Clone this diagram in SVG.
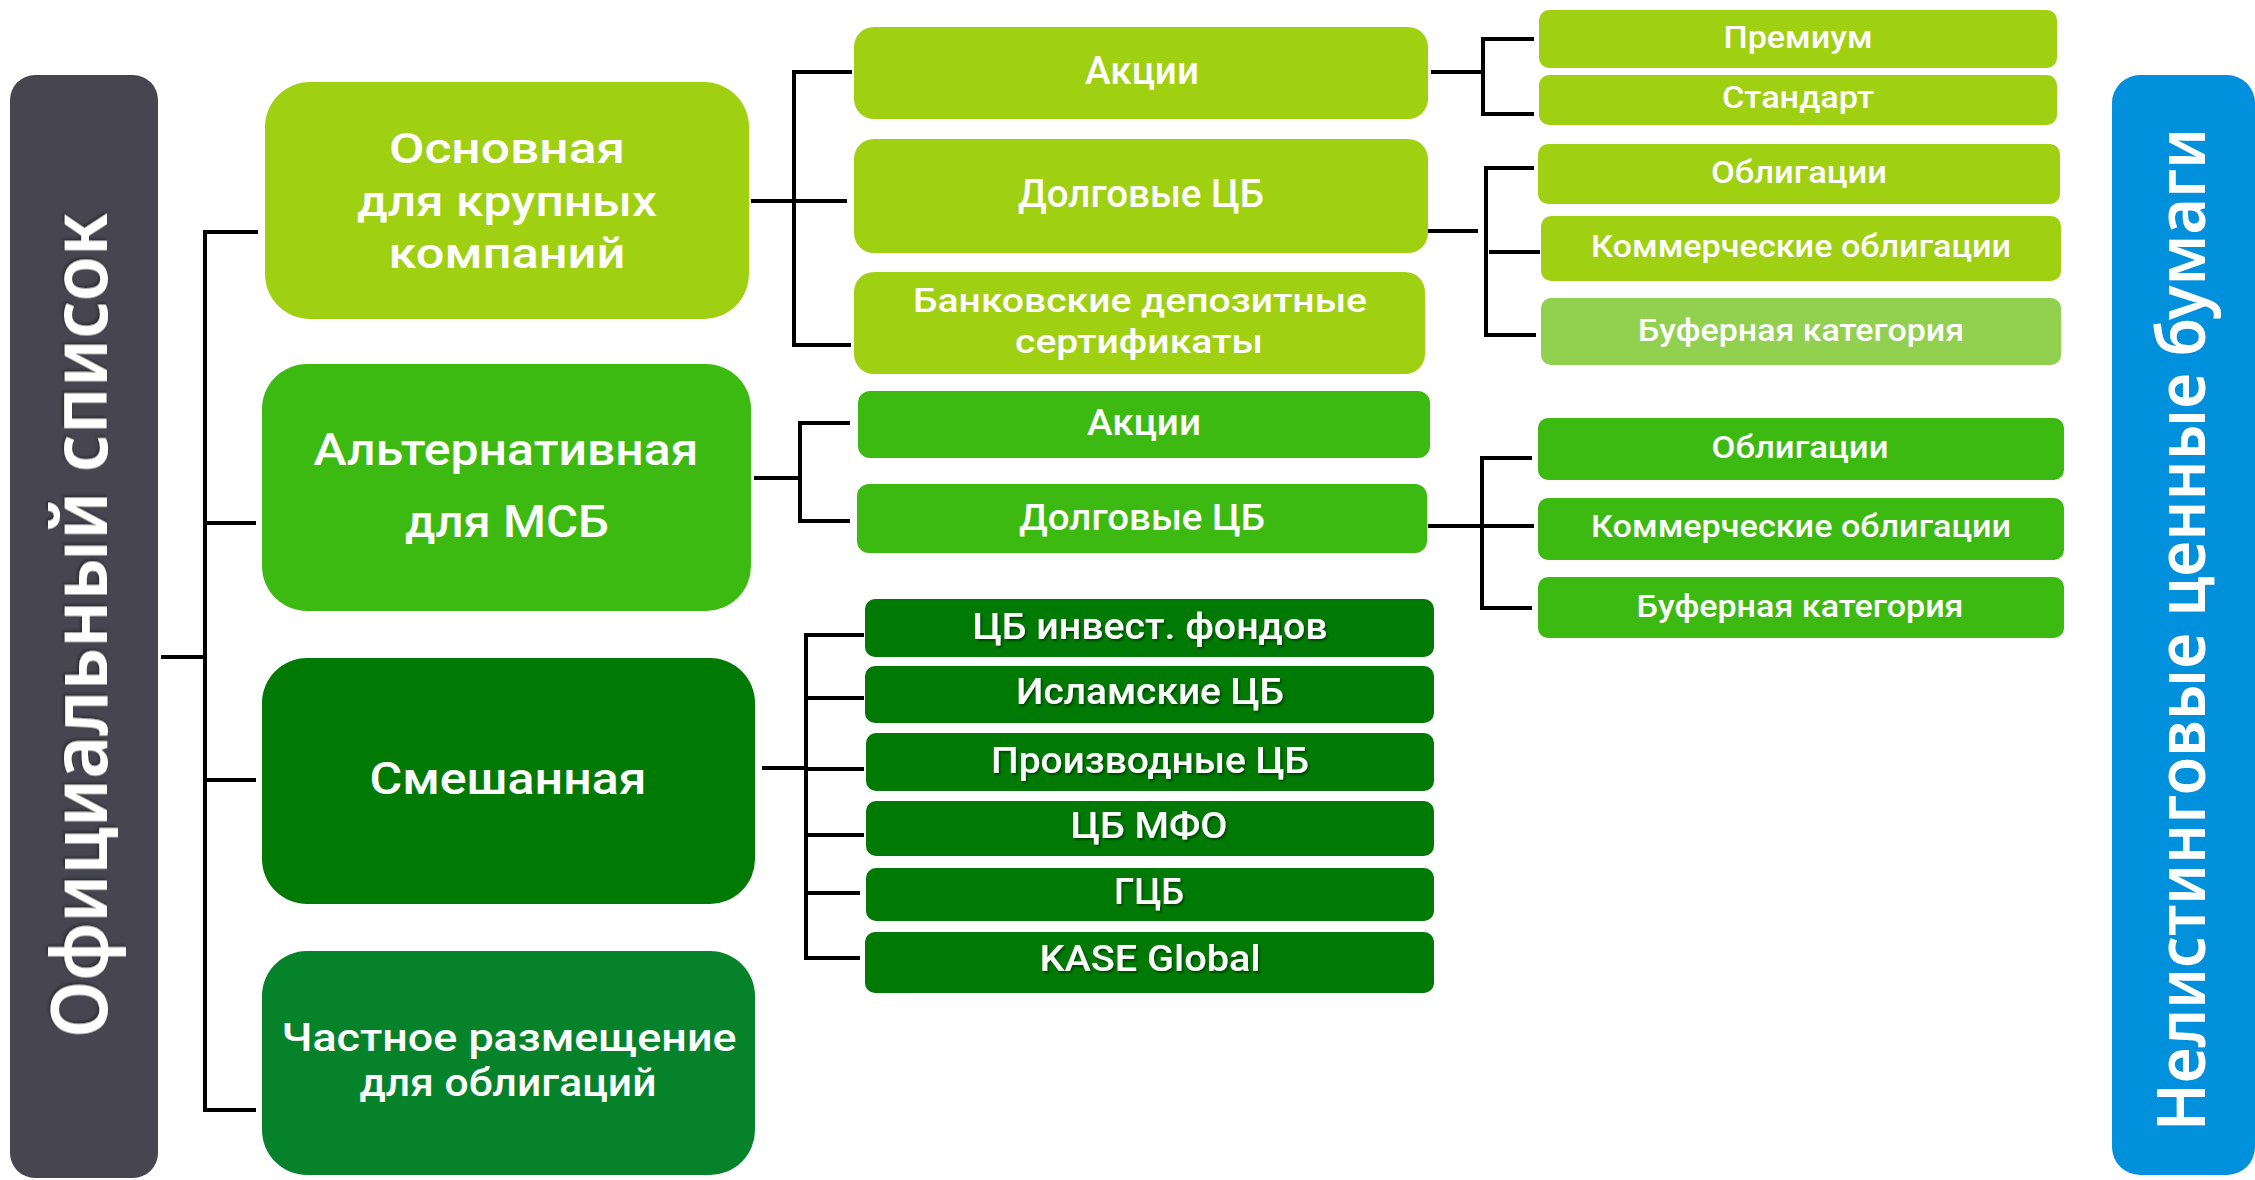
<svg xmlns="http://www.w3.org/2000/svg" width="2255" height="1180" viewBox="0 0 2255 1180">
<defs>
<filter id="sh" x="-10%" y="-30%" width="120%" height="160%">
<feDropShadow dx="1.5" dy="2" stdDeviation="1.2" flood-color="#000" flood-opacity="0.45"/>
</filter>
<filter id="shv" x="-30%" y="-10%" width="160%" height="120%">
<feDropShadow dx="2" dy="-1.5" stdDeviation="1.5" flood-color="#000" flood-opacity="0.4"/>
</filter>
</defs>
<style>
text{font-family:Roboto,"Open Sans","DejaVu Sans",sans-serif;font-weight:500;fill:#fff;text-anchor:middle}
.c1{font-size:44px}
.c2{font-size:38px}
.c3{font-size:31px}
.cm{font-size:36px}
.title{font-family:"Noto Sans","Open Sans",sans-serif;font-weight:600}
.lg{fill:#9fd011}
.ag{fill:#3dba12}
.dg{fill:#007a04}
.pg{fill:#06832a}
.bf{fill:#92d050}
.con line{stroke:#000;stroke-width:4;stroke-linecap:square}
</style>
<rect width="2255" height="1180" fill="#fff"/>

<g id="official">
<rect x="10" y="75" width="148" height="1103" rx="25" fill="#474650"/>
<text class="title" transform="translate(107,625.5) rotate(-90)" font-size="78" textLength="825" lengthAdjust="spacingAndGlyphs" filter="url(#shv)">Официальный список</text>
</g>

<g id="unlisted">
<rect x="2112" y="75" width="143" height="1100" rx="28" fill="#0190db"/>
<text class="title" transform="translate(2205,629.5) rotate(-90)" font-size="66" textLength="1003" lengthAdjust="spacingAndGlyphs">Нелистинговые ценные бумаги</text>
</g>

<g class="con" id="connectors">
<line x1="163" y1="657" x2="201" y2="657"/>
<line x1="205" y1="232" x2="205" y2="1110"/>
<line x1="205" y1="232" x2="256" y2="232"/>
<line x1="205" y1="523" x2="254" y2="523"/>
<line x1="205" y1="780" x2="254" y2="780"/>
<line x1="205" y1="1110" x2="254" y2="1110"/>

<line x1="753" y1="201" x2="845" y2="201"/>
<line x1="794" y1="72" x2="794" y2="345"/>
<line x1="794" y1="72" x2="850" y2="72"/>
<line x1="794" y1="345" x2="849" y2="345"/>

<line x1="756" y1="478" x2="798" y2="478"/>
<line x1="800" y1="423" x2="800" y2="521"/>
<line x1="800" y1="423" x2="848" y2="423"/>
<line x1="800" y1="521" x2="848" y2="521"/>

<line x1="764" y1="768" x2="806" y2="768"/>
<line x1="806" y1="635" x2="806" y2="958"/>
<line x1="806" y1="635" x2="862" y2="635"/>
<line x1="808" y1="698" x2="862" y2="698"/>
<line x1="808" y1="769" x2="862" y2="769"/>
<line x1="808" y1="835" x2="862" y2="835"/>
<line x1="810" y1="893" x2="858" y2="893"/>
<line x1="806" y1="958" x2="858" y2="958"/>

<line x1="1433" y1="72" x2="1483" y2="72"/>
<line x1="1483" y1="39" x2="1483" y2="114"/>
<line x1="1483" y1="39" x2="1532" y2="39"/>
<line x1="1483" y1="114" x2="1532" y2="114"/>

<line x1="1430" y1="231" x2="1476" y2="231"/>
<line x1="1486" y1="168" x2="1486" y2="335"/>
<line x1="1486" y1="168" x2="1532" y2="168"/>
<line x1="1491" y1="252" x2="1538" y2="252"/>
<line x1="1486" y1="335" x2="1534" y2="335"/>

<line x1="1430" y1="526" x2="1532" y2="526"/>
<line x1="1482" y1="458" x2="1482" y2="608"/>
<line x1="1482" y1="458" x2="1530" y2="458"/>
<line x1="1482" y1="608" x2="1530" y2="608"/>
</g>

<g id="main">
<rect class="lg" x="265" y="82" width="484" height="237" rx="45"/>
<text class="c1" x="507" y="163" style="font-size:43px" textLength="236" lengthAdjust="spacingAndGlyphs">Основная</text>
<text class="c1" x="507" y="215.5" style="font-size:43px" textLength="300" lengthAdjust="spacingAndGlyphs">для крупных</text>
<text class="c1" x="507" y="267.5" style="font-size:43px" textLength="237" lengthAdjust="spacingAndGlyphs">компаний</text>
</g>
<g id="alt">
<rect class="ag" x="262" y="364" width="489" height="247" rx="45"/>
<text class="c1" x="506" y="464.6" textLength="385" lengthAdjust="spacingAndGlyphs">Альтернативная</text>
<text class="c1" x="507" y="537" textLength="204" lengthAdjust="spacingAndGlyphs">для МСБ</text>
</g>
<g id="mixed">
<rect class="dg" x="262" y="658" width="493" height="246" rx="45"/>
<text class="c1" x="508" y="794" textLength="277" lengthAdjust="spacingAndGlyphs">Смешанная</text>
</g>
<g id="private">
<rect class="pg" x="262" y="951" width="493" height="224" rx="45"/>
<text class="c1" x="509" y="1050.5" style="font-size:38px" textLength="455" lengthAdjust="spacingAndGlyphs">Частное размещение</text>
<text class="c1" x="508" y="1095.5" style="font-size:38px" textLength="297" lengthAdjust="spacingAndGlyphs">для облигаций</text>
</g>

<g id="main-shares">
<rect class="lg" x="854" y="27" width="574" height="92" rx="20"/>
<text class="c2" x="1142" y="84" textLength="114" lengthAdjust="spacingAndGlyphs">Акции</text>
</g>
<g id="main-debt">
<rect class="lg" x="854" y="139" width="574" height="114" rx="20"/>
<text class="c2" x="1141" y="207" textLength="246" lengthAdjust="spacingAndGlyphs">Долговые ЦБ</text>
</g>
<g id="main-cd">
<rect class="lg" x="854" y="272" width="571" height="102" rx="20"/>
<text class="c2" x="1140" y="311.5" style="font-size:33px" textLength="454" lengthAdjust="spacingAndGlyphs">Банковские депозитные</text>
<text class="c2" x="1139" y="352.5" style="font-size:33px" textLength="248" lengthAdjust="spacingAndGlyphs">сертификаты</text>
</g>
<g id="alt-shares">
<rect class="ag" x="858" y="391" width="572" height="67" rx="12"/>
<text class="c2" x="1144" y="435" style="font-size:36px" textLength="114" lengthAdjust="spacingAndGlyphs">Акции</text>
</g>
<g id="alt-debt">
<rect class="ag" x="857" y="484" width="570" height="69" rx="12"/>
<text class="c2" x="1142" y="530" style="font-size:37px" textLength="246" lengthAdjust="spacingAndGlyphs">Долговые ЦБ</text>
</g>

<g id="mix-funds">
<rect class="dg" x="865" y="599" width="569" height="58" rx="10"/>
<text class="cm" x="1150" y="639" textLength="355" lengthAdjust="spacingAndGlyphs" filter="url(#sh)">ЦБ инвест. фондов</text>
</g>
<g id="mix-islamic">
<rect class="dg" x="865" y="666" width="569" height="57" rx="10"/>
<text class="cm" x="1150" y="704" textLength="268" lengthAdjust="spacingAndGlyphs" filter="url(#sh)">Исламские ЦБ</text>
</g>
<g id="mix-deriv">
<rect class="dg" x="866" y="733" width="568" height="58" rx="10"/>
<text class="cm" x="1150" y="773" textLength="318" lengthAdjust="spacingAndGlyphs" filter="url(#sh)">Производные ЦБ</text>
</g>
<g id="mix-mfo">
<rect class="dg" x="866" y="801" width="568" height="55" rx="10"/>
<text class="cm" x="1149" y="838" textLength="157" lengthAdjust="spacingAndGlyphs" filter="url(#sh)">ЦБ МФО</text>
</g>
<g id="mix-gcb">
<rect class="dg" x="866" y="868" width="568" height="53" rx="10"/>
<text class="cm" x="1149" y="904" textLength="70" lengthAdjust="spacingAndGlyphs" filter="url(#sh)">ГЦБ</text>
</g>
<g id="mix-kase">
<rect class="dg" x="865" y="932" width="569" height="61" rx="10"/>
<text class="cm" x="1150" y="971" textLength="221" lengthAdjust="spacingAndGlyphs" filter="url(#sh)">KASE Global</text>
</g>

<g id="premium">
<rect class="lg" x="1539" y="10" width="518" height="58" rx="10"/>
<text class="c3" x="1798" y="48.4" textLength="149" lengthAdjust="spacingAndGlyphs">Премиум</text>
</g>
<g id="standard">
<rect class="lg" x="1539" y="75" width="518" height="50" rx="10"/>
<text class="c3" x="1798" y="108" textLength="152" lengthAdjust="spacingAndGlyphs">Стандарт</text>
</g>
<g id="main-bonds">
<rect class="lg" x="1538" y="144" width="522" height="60" rx="10"/>
<text class="c3" x="1799" y="183" textLength="176" lengthAdjust="spacingAndGlyphs">Облигации</text>
</g>
<g id="main-cp">
<rect class="lg" x="1541" y="216" width="520" height="65" rx="10"/>
<text class="c3" x="1801" y="257" textLength="420" lengthAdjust="spacingAndGlyphs">Коммерческие облигации</text>
</g>
<g id="main-buffer">
<rect class="bf" x="1541" y="298" width="520" height="67" rx="10"/>
<text class="c3" x="1801" y="341" textLength="326" lengthAdjust="spacingAndGlyphs">Буферная категория</text>
</g>
<g id="alt-bonds">
<rect class="ag" x="1538" y="418" width="526" height="62" rx="10"/>
<text class="c3" x="1800" y="458" textLength="177" lengthAdjust="spacingAndGlyphs">Облигации</text>
</g>
<g id="alt-cp">
<rect class="ag" x="1538" y="498" width="526" height="62" rx="10"/>
<text class="c3" x="1801" y="536.6" textLength="420" lengthAdjust="spacingAndGlyphs">Коммерческие облигации</text>
</g>
<g id="alt-buffer">
<rect class="ag" x="1538" y="577" width="526" height="61" rx="10"/>
<text class="c3" x="1800" y="616.6" textLength="327" lengthAdjust="spacingAndGlyphs">Буферная категория</text>
</g>
</svg>
